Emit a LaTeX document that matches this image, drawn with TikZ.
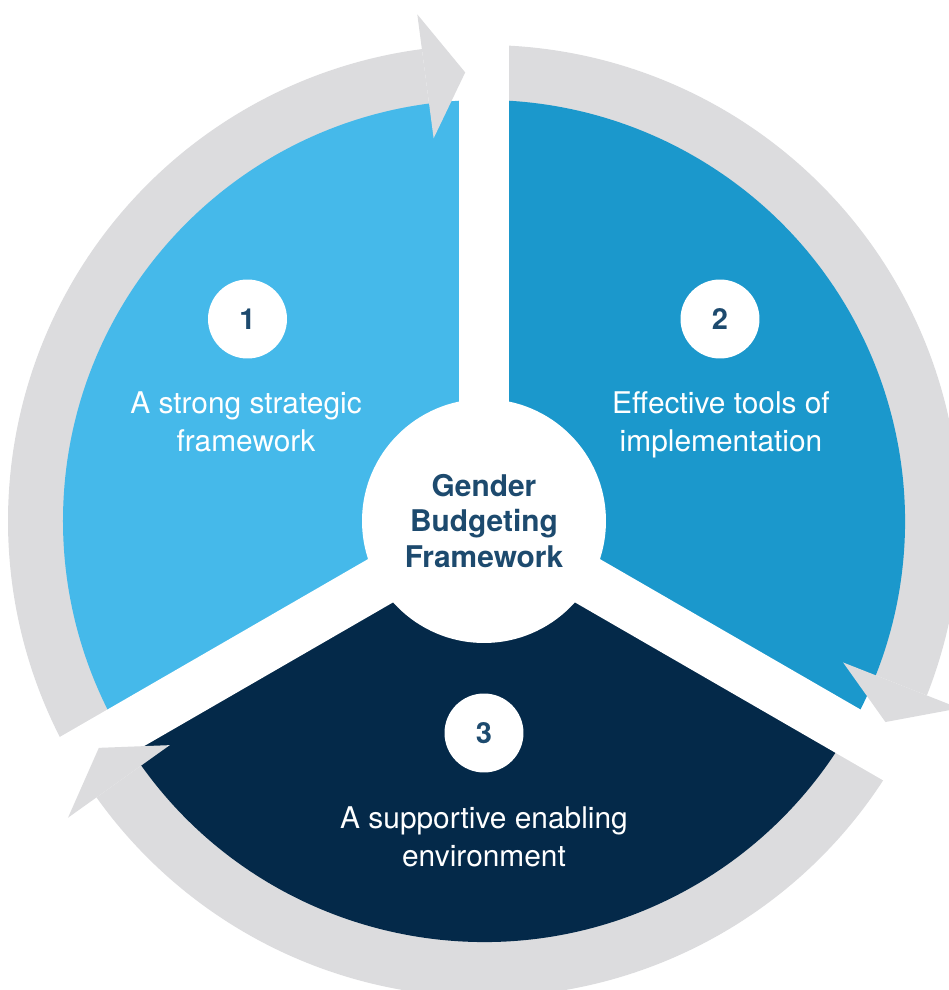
\documentclass[tikz,border=0pt]{standalone}
\usepackage{fontspec}
\setmainfont{TeX Gyre Heros}

\definecolor{ringgray}{HTML}{DCDCDE}
\definecolor{skyblue}{HTML}{45B9EA}
\definecolor{midblue}{HTML}{1B98CC}
\definecolor{deepnavy}{HTML}{042949}
\definecolor{labelnavy}{HTML}{1D4A6E}

\tikzset{
    band/.style={fill=ringgray},
    gap/.style={fill=white},
    hub/.style={circle, fill=white, minimum size=4.88cm, inner sep=0pt, align=center,
        text=labelnavy, font=\bfseries\fontsize{17}{20.4}\selectfont},
    badge/.style={circle, fill=white, minimum size=1.58cm, inner sep=0pt,
        text=labelnavy, font=\bfseries\fontsize{16.5}{18}\selectfont},
    caption/.style={text=white, align=center, font=\fontsize{17}{21.5}\selectfont}
}

\begin{document}
\begin{tikzpicture}[x=0.02cm, y=0.02cm]
    \useasboundingbox (-484,-469) rectangle (465,521);

    % grey shafts of the cycle arrows, under the pie
    \fill[band] (210:410) -- (210:476) arc[start angle=210, end angle=97.5, radius=476]
        -- (97.5:410) arc[start angle=97.5, end angle=210, radius=410] -- cycle;
    \fill[band] (90:410) -- (90:476) arc[start angle=90, end angle=-21.5, radius=476]
        -- (-21.5:410) arc[start angle=-21.5, end angle=90, radius=410] -- cycle;
    \fill[band] (330:410) -- (330:476) arc[start angle=330, end angle=215.5, radius=476]
        -- (215.5:410) arc[start angle=215.5, end angle=330, radius=410] -- cycle;

    % the three sectors
    \fill[skyblue] (0,0) -- (90:421) arc[start angle=90, end angle=210, radius=421] -- cycle;
    \fill[midblue] (0,0) -- (-30:421) arc[start angle=-30, end angle=90, radius=421] -- cycle;
    \fill[deepnavy] (0,0) -- (210:421) arc[start angle=210, end angle=330, radius=421] -- cycle;

    % white gaps between the sectors
    \foreach \a in {90,210,330}
        \fill[gap, rotate=\a] (0,-25) rectangle (520,25);

    % arrow heads
    \fill[band] (97.5:386) -- (92.4:449) -- (97.5:511) -- cycle;
    \fill[band] (-21.5:386) -- (-26.6:449) -- (-21.5:511) -- cycle;
    \fill[band] (215.5:386) -- (210.5:447) -- (215.5:511) -- cycle;

    % centre
    \node[hub] (hub) at (0,0) {Gender\\Budgeting\\Framework};

    % numbered badges
    \node[badge] (one) at (-236.5,202) {1};
    \node[badge] (two) at (236,202) {2};
    \node[badge] (three) at (0,-212) {3};

    % sector texts
    \node[caption] (strategic) at (-238,99.5) {A strong strategic\\framework};
    \node[caption] (tools) at (237,96.5) {Effective tools of\\implementation};
    \node[caption] (enabling) at (0,-315.5) {A supportive enabling\\environment};
\end{tikzpicture}
\end{document}
